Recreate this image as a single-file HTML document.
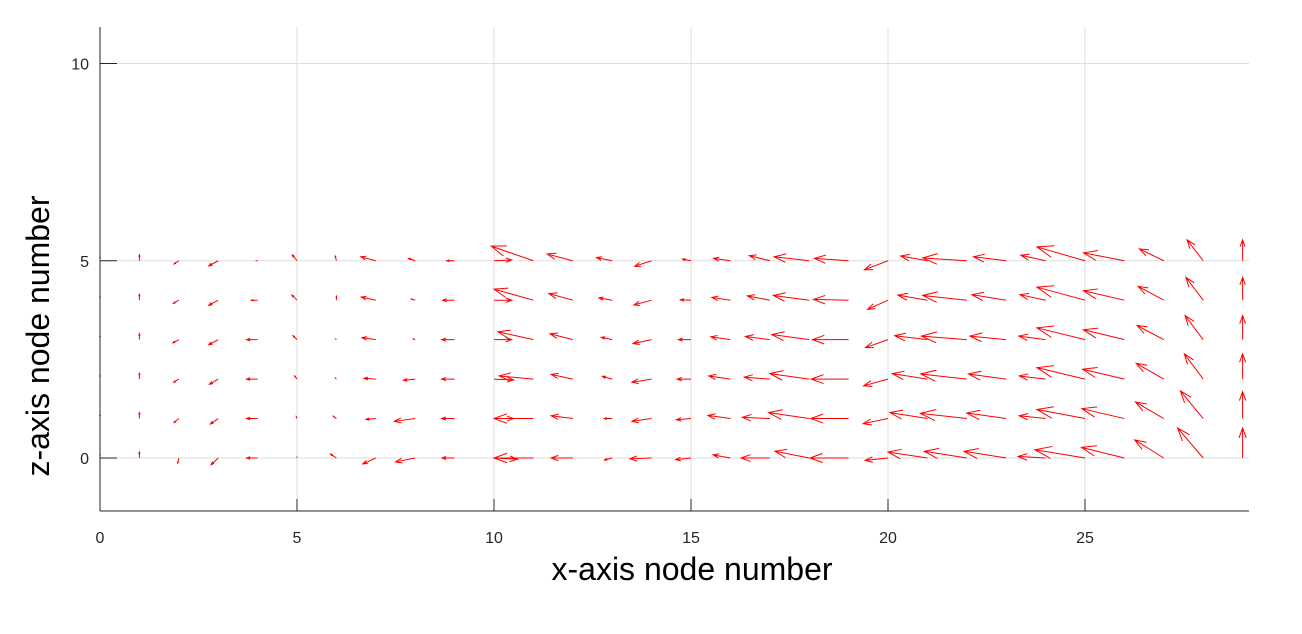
<!DOCTYPE html>
<html><head><meta charset="utf-8">
<style>
body{margin:0;background:#fff;}
svg{display:block;font-family:"Liberation Sans",Arial,sans-serif;}
</style></head>
<body>
<svg id="chart" width="1302" height="634" viewBox="0 0 1302 634" xmlns="http://www.w3.org/2000/svg">
<rect width="1302" height="634" fill="#fff"/>
<g id="grid"></g>
<g id="arrows"></g>
<g id="axes"></g>
<text x="692" y="580" font-size="32" text-anchor="middle">x-axis node number</text>
<text x="0" y="0" font-size="32" text-anchor="middle" transform="translate(49,336) rotate(-90)">z-axis node number</text>
</svg>
<script>
const xTicks=[0,5,10,15,20,25];
const yTicks=[0,5,10];
const zLevels=[0,1,2,3,4,5];
// U[col] and W[col] : components for z = 0..5
const U=[
[0,0,0,0,0,0],[0,0,0,0,0,0],
[-0.03,-0.12,-0.13,-0.15,-0.14,-0.12],
[-0.18,-0.2,-0.22,-0.24,-0.24,-0.24],
[-0.28,-0.28,-0.28,-0.28,-0.16,-0.03],
[0,-0.02,-0.06,-0.1,-0.13,-0.12],
[-0.15,-0.08,-0.03,-0.02,0,-0.03],
[-0.33,-0.25,-0.3,-0.35,-0.37,-0.38],
[-0.5,-0.53,-0.3,-0.05,-0.1,-0.17],
[-0.32,-0.33,-0.33,-0.33,-0.3,-0.2],
[0.6,0.5,0.5,0.45,0.45,0.45],
[-1.0,-1.0,-0.87,-0.9,-1.0,-1.07],
[-0.55,-0.55,-0.55,-0.58,-0.61,-0.65],
[-0.2,-0.2,-0.25,-0.28,-0.34,-0.4],
[-0.55,-0.5,-0.5,-0.47,-0.45,-0.43],
[-0.39,-0.37,-0.35,-0.32,-0.27,-0.22],
[-0.44,-0.57,-0.55,-0.5,-0.47,-0.43],
[-0.73,-0.7,-0.65,-0.62,-0.57,-0.52],
[-0.87,-1.03,-1.0,-0.95,-0.91,-0.89],
[-0.98,-0.96,-0.95,-0.92,-0.89,-0.87],
[-0.58,-0.63,-0.62,-0.57,-0.52,-0.6],
[-1.0,-0.95,-0.89,-0.83,-0.75,-0.68],
[-1.08,-1.18,-1.17,-1.15,-1.12,-1.12],
[-1.07,-1.0,-0.96,-0.92,-0.87,-0.83],
[-0.7,-0.67,-0.67,-0.68,-0.65,-0.63],
[-1.27,-1.22,-1.22,-1.22,-1.22,-1.22],
[-1.09,-1.08,-1.06,-1.04,-1.04,-1.04],
[-0.74,-0.72,-0.7,-0.68,-0.65,-0.62],
[-0.65,-0.58,-0.48,-0.46,-0.44,-0.41],
[0,0,0,0,0,0]
];
const W=[
[0.1,0.1,0.1,0.1,0.1,0.1],[0.15,0.15,0.15,0.15,0.15,0.15],
[-0.13,-0.1,-0.08,-0.08,-0.08,-0.08],
[-0.17,-0.14,-0.13,-0.13,-0.13,-0.13],
[0,0,0,0,0,0],
[0.02,0.05,0.08,0.1,0.13,0.15],
[0.1,0.06,0.03,0.02,0.1,0.12],
[-0.15,-0.02,0.02,0.05,0.08,0.1],
[-0.1,-0.07,-0.03,0.02,0.03,0.06],
[0,0,0,0,0,0],
[-0.03,0,-0.02,0,0,0.02],
[0,0,0.08,0.2,0.28,0.37],
[0,0.07,0.12,0.15,0.17,0.17],
[-0.05,0,0.07,0.06,0.06,0.08],
[-0.02,-0.07,-0.08,-0.1,-0.12,-0.14],
[-0.04,-0.03,0,0,0.01,0.04],
[0.08,0.08,0.08,0.07,0.07,0.06],
[0,0.03,0.05,0.08,0.11,0.13],
[0.17,0.15,0.14,0.13,0.12,0.1],
[0,0,0,0,0.02,0.06],
[-0.06,-0.13,-0.17,-0.2,-0.23,-0.23],
[0.15,0.15,0.14,0.1,0.13,0.12],
[0.17,0.13,0.13,0.09,0.12,0.07],
[0.17,0.14,0.13,0.09,0.14,0.1],
[0.04,0.07,0.08,0.09,0.14,0.14],
[0.21,0.23,0.29,0.3,0.33,0.35],
[0.27,0.25,0.25,0.25,0.24,0.2],
[0.46,0.42,0.4,0.36,0.35,0.3],
[0.76,0.7,0.64,0.61,0.58,0.53],
[0.76,0.68,0.64,0.61,0.58,0.53]
];
const X0=100,PX=39.4,Y0=458,PY=39.45;
const xs=v=>X0+v*PX, ys=v=>Y0-v*PY;
const NS="http://www.w3.org/2000/svg";
function mk(t,a,p){const e=document.createElementNS(NS,t);for(const k in a)e.setAttribute(k,a[k]);p.appendChild(e);return e;}
const grid=document.getElementById('grid'),axes=document.getElementById('axes'),arr=document.getElementById('arrows');
xTicks.forEach(t=>{
 const g=mk('line',{x1:xs(t),x2:xs(t),y1:27,y2:511,stroke:'#dedede','stroke-width':1},grid);
 
 
 const k=mk('line',{x1:xs(t),x2:xs(t),y1:511,y2:499,stroke:'#262626','stroke-width':1},axes);
 
 
 const l=mk('text',{x:xs(t),y:543,'font-size':16,'text-anchor':'middle',fill:'#262626'},axes);
 l.textContent=t;
 
 
});
yTicks.forEach(t=>{
 const g=mk('line',{x1:100,x2:1249,y1:ys(t),y2:ys(t),stroke:'#dedede','stroke-width':1},grid);
 
 
 const k=mk('line',{x1:100,x2:117,y1:ys(t),y2:ys(t),stroke:'#262626','stroke-width':1},axes);
 
 
 const l=mk('text',{x:89,y:ys(t)+6,'font-size':16,'text-anchor':'end',fill:'#262626'},axes);
 l.textContent=t;
 
 
});
const la=mk('line',{x1:100,x2:100,y1:27,y2:511,stroke:'#262626','stroke-width':1},axes);


const lb=mk('line',{x1:100,x2:1249,y1:511,y2:511,stroke:'#262626','stroke-width':1},axes);


U.forEach((col,i)=>{
 col.forEach((u,j)=>{
  const w=W[i][j],z=zLevels[j];
  const x1=xs(i),y1=ys(z),x2=xs(i+u),y2=ys(z+w);
  const dx=x2-x1,dy=y2-y1,L=Math.hypot(dx,dy);
  let d=`M${x1},${y1}L${x2},${y2}`;
  if(L>0.5){
   const h=0.33,s=0.12;
   const bx=x2-h*dx,by=y2-h*dy;
   d=`M${x1},${y1}L${x2},${y2}M${bx+s*dy},${by-s*dx}L${x2},${y2}L${bx-s*dy},${by+s*dx}`;
  }
  const p=mk('path',{d:d,stroke:'#ff0000','stroke-width':1,fill:'none'},arr);
  
  
 });
});
</script>
</body></html>
